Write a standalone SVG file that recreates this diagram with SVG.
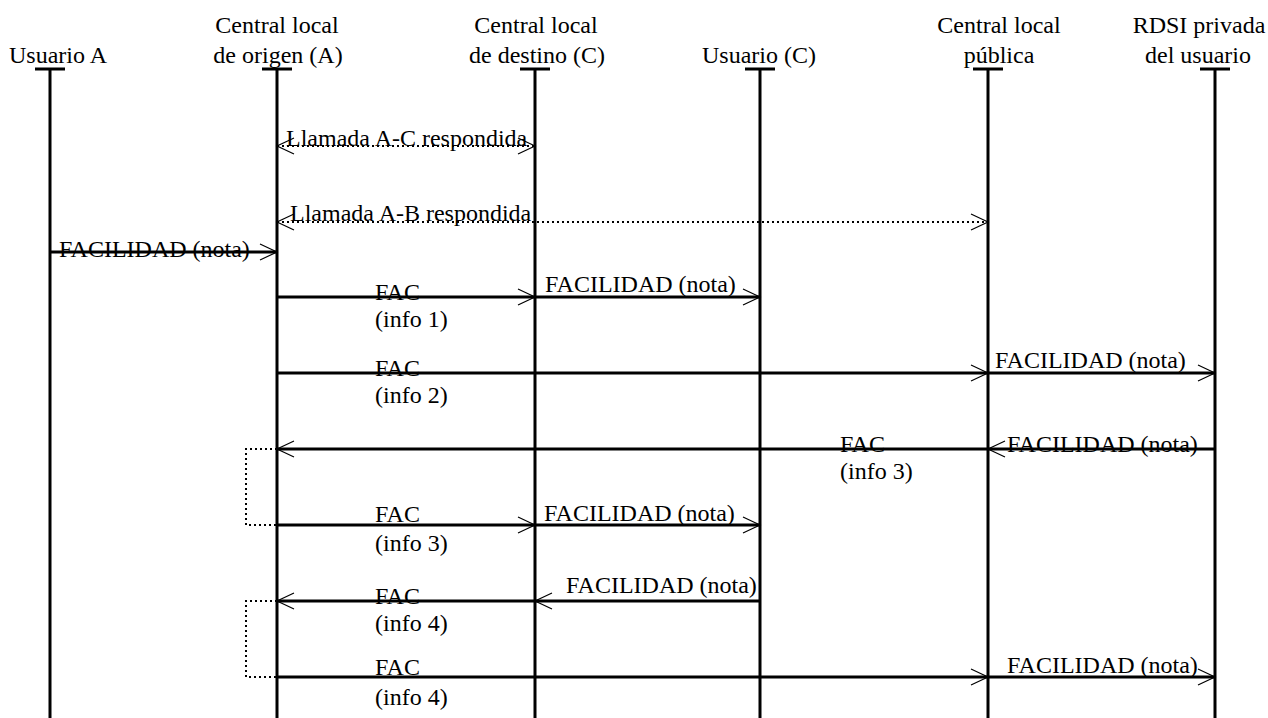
<svg xmlns="http://www.w3.org/2000/svg" width="1268" height="718" viewBox="0 0 1268 718">
<style>
text{font-size:24px;fill:#000}
.hd{text-anchor:middle}
.life{stroke:#000;stroke-width:3;fill:none}
.msg{stroke:#000;stroke-width:3;fill:none;marker-end:url(#ah)}
.dot{stroke:#000;stroke-width:2;stroke-dasharray:2 3;fill:none}
.dot2{stroke:#000;stroke-width:2;stroke-dasharray:2 3;fill:none;marker-start:url(#ahs);marker-end:url(#ah)}
</style>
<defs>
<marker id="ah" markerUnits="userSpaceOnUse" markerWidth="24" markerHeight="24" refX="20" refY="10" orient="auto" overflow="visible">
<path d="M3,2 L20,10 L3,18" fill="none" stroke="#000" stroke-width="1.2"/>
</marker>
<marker id="ahs" markerUnits="userSpaceOnUse" markerWidth="24" markerHeight="24" refX="20" refY="10" orient="auto-start-reverse" overflow="visible">
<path d="M3,2 L20,10 L3,18" fill="none" stroke="#000" stroke-width="1.2"/>
</marker>
</defs>
<rect width="1268" height="718" fill="#fff"/>
<g font-family="'Liberation Serif', 'Times New Roman', 'DejaVu Serif', serif">
<g id="usuarioA">
<text x="58" y="63" class="hd">Usuario A</text>
<path class="life" d="M35,69 H65 M50,69 V718"/>
</g>
<g id="centralOrigen">
<text x="277" y="33" class="hd">Central local</text>
<text x="278" y="63" class="hd">de origen (A)</text>
<path class="life" d="M262,69 H292 M277,69 V718"/>
</g>
<g id="centralDestino">
<text x="536" y="33" class="hd">Central local</text>
<text x="537" y="63" class="hd">de destino (C)</text>
<path class="life" d="M520,69 H550 M535,69 V718"/>
</g>
<g id="usuarioC">
<text x="759" y="63" class="hd">Usuario (C)</text>
<path class="life" d="M745,69 H775 M760,69 V718"/>
</g>
<g id="centralPublica">
<text x="999" y="33" class="hd">Central local</text>
<text x="999" y="63" class="hd">pública</text>
<path class="life" d="M973,69 H1003 M988,69 V718"/>
</g>
<g id="rdsiPrivada">
<text x="1199" y="33" class="hd">RDSI privada</text>
<text x="1198" y="63" class="hd">del usuario</text>
<path class="life" d="M1200,69 H1230 M1215,69 V718"/>
</g>
<g id="connectors">
<path class="dot2" d="M277,146 H535"/>
<path class="dot2" d="M277,222 H988"/>
<path class="msg" d="M50,252 H277"/>
<path class="msg" d="M277,297 H535"/>
<path class="msg" d="M535,297 H760"/>
<path class="msg" d="M277,373 H988"/>
<path class="msg" d="M988,373 H1215"/>
<path class="msg" d="M1215,449 H988"/>
<path class="msg" d="M988,449 H277"/>
<path class="dot" d="M277,449 H246 V525 H277"/>
<path class="msg" d="M277,525 H535"/>
<path class="msg" d="M535,525 H760"/>
<path class="msg" d="M760,601 H535"/>
<path class="msg" d="M535,601 H277"/>
<path class="dot" d="M277,601 H246 V677 H277"/>
<path class="msg" d="M277,677 H988"/>
<path class="msg" d="M988,677 H1215"/>
</g>
<g id="labels">
<text x="286" y="146">Llamada A-C respondida</text>
<text x="290" y="221">Llamada A-B respondida</text>
<text x="59" y="257">FACILIDAD (nota)</text>
<text x="375" y="300">FAC</text>
<text x="375" y="327">(info 1)</text>
<text x="545" y="292">FACILIDAD (nota)</text>
<text x="375" y="376">FAC</text>
<text x="375" y="403">(info 2)</text>
<text x="995" y="368">FACILIDAD (nota)</text>
<text x="1007" y="452">FACILIDAD (nota)</text>
<text x="840" y="452">FAC</text>
<text x="840" y="479">(info 3)</text>
<text x="375" y="522">FAC</text>
<text x="375" y="551">(info 3)</text>
<text x="544" y="521">FACILIDAD (nota)</text>
<text x="566" y="593">FACILIDAD (nota)</text>
<text x="375" y="604">FAC</text>
<text x="375" y="631">(info 4)</text>
<text x="375" y="675">FAC</text>
<text x="375" y="705">(info 4)</text>
<text x="1007" y="673">FACILIDAD (nota)</text>
</g>
</g>
</svg>
